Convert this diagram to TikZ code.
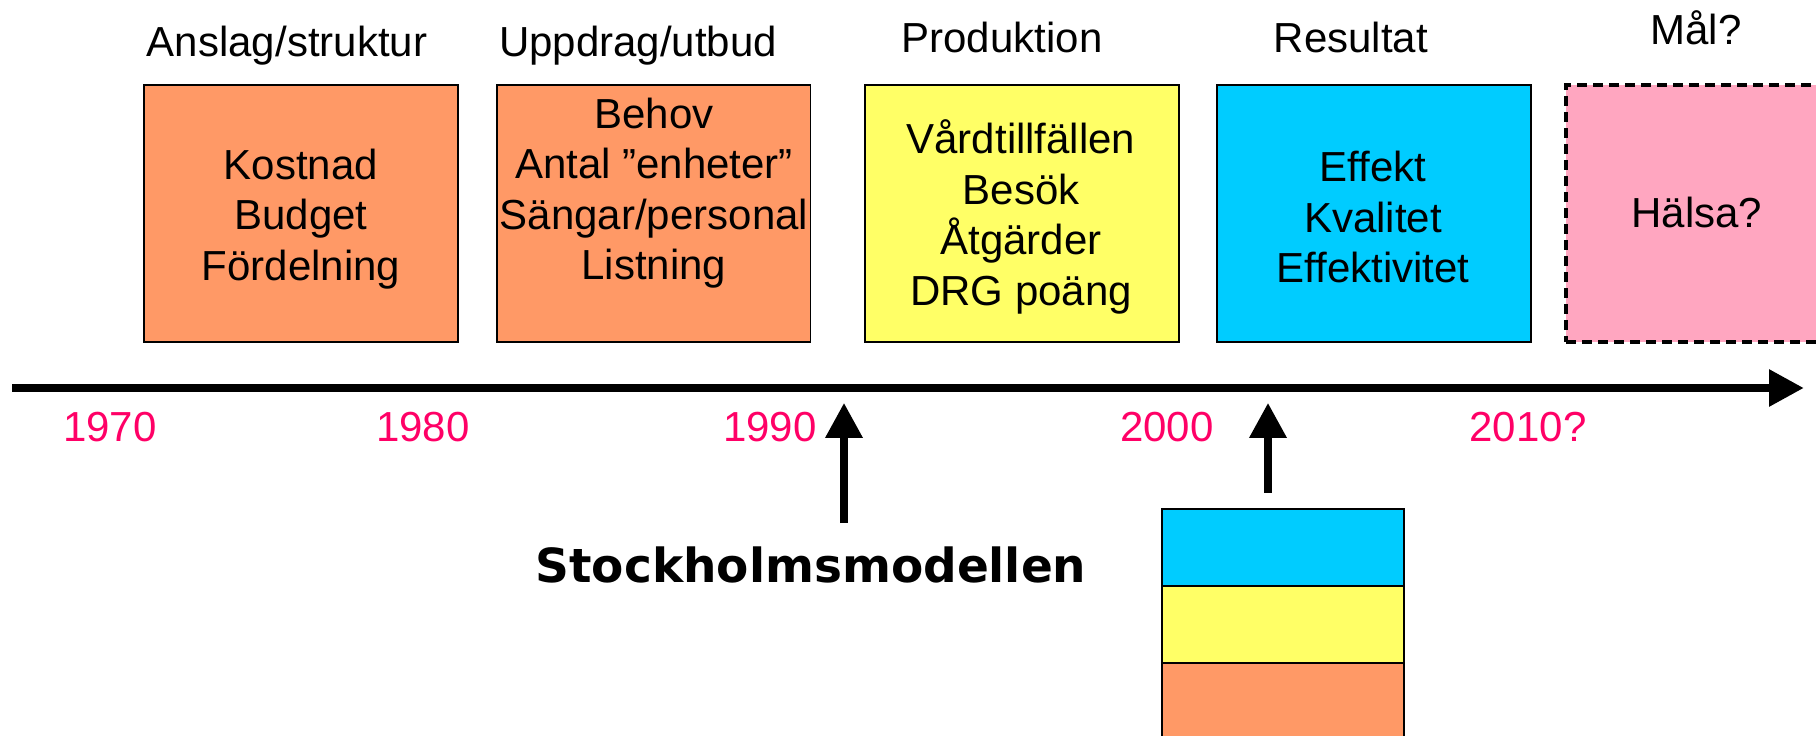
\documentclass[tikz,border=0pt]{standalone}
\usepackage{fontspec}
\setmainfont{Liberation Sans}
\newfontfamily\modelfont{DejaVu Sans}
\usetikzlibrary{arrows.meta}

\definecolor{orangebox}{HTML}{FF9966}
\definecolor{yellowbox}{HTML}{FFFF66}
\definecolor{bluebox}{HTML}{00CCFF}
\definecolor{pinkbox}{HTML}{FFA6C0}
\definecolor{yearcol}{HTML}{FF0066}

\tikzset{
    box/.style={draw=black, line width=1.1pt, minimum width=6.28cm, minimum height=5.14cm, inner sep=0pt},
    boxtext/.style={align=center, inner sep=0pt, font=\fontsize{23.9}{28.7}\selectfont},
    heading/.style={anchor=base, inner sep=0pt, font=\fontsize{23.9}{28.7}\selectfont},
    year/.style={anchor=base, inner sep=0pt, text=yearcol, font=\fontsize{23.9}{28.7}\selectfont},
    layer/.style={draw=black, line width=1.1pt, minimum width=4.84cm, minimum height=1.54cm, inner sep=0pt},
    uparrow/.style={line width=4pt, -{Triangle[length=0.7cm, width=0.72cm]}},
}

\begin{document}
\begin{tikzpicture}[x=0.02cm, y=-0.02cm]
    \useasboundingbox (0,0) rectangle (1816,736);
    \clip (0,0) rectangle (1816,736);

    % headings
    \node[heading] (hanslag) at (287,57) {Anslag/struktur};
    \node[heading] (huppdrag) at (638,57) {Uppdrag/utbud};
    \node[heading] (hprod) at (1002,53) {Produktion};
    \node[heading] (hresultat) at (1351,53) {Resultat};
    \node[heading] (hmal) at (1696,45) {Mål?};

    % boxes
    \node[box, fill=orangebox] (anslag) at (301,213.5) {};
    \node[box, fill=orangebox] (uppdrag) at (653.5,213.5) {};
    \node[box, fill=yellowbox] (prod) at (1022,213.5) {};
    \node[box, fill=bluebox] (resultat) at (1374,213.5) {};
    \node[box, fill=pinkbox, line width=2pt, dash pattern=on 0.2cm off 0.12cm] (mal) at (1723,213.5) {};

    \node[boxtext] (kostnad) at (301,219) {Kostnad\\Budget\\Fördelning};
    \node[boxtext] (behov) at (654,193) {Behov\\Antal ”enheter”\\Sängar/personal\\Listning};
    \node[boxtext] (vard) at (1021,217) {Vårdtillfällen\\Besök\\Åtgärder\\DRG poäng};
    \node[boxtext] (effekt) at (1373,217) {Effekt\\Kvalitet\\Effektivitet};
    \node[heading] (halsa) at (1697,228) {Hälsa?};

    % time axis
    \coordinate (axstart) at (12,388);
    \coordinate (axend) at (1804,388);
    \draw[line width=5.1pt, -{Triangle[length=0.7cm, width=0.7cm]}] (axstart) -- (axend);
    \node[year] (y1970) at (110,441) {1970};
    \node[year] (y1980) at (423,441) {1980};
    \node[year] (y1990) at (770,441) {1990};
    \node[year] (y2000) at (1167,441) {2000};
    \node[year] (y2010) at (1528,441) {2010?};

    % model arrows
    \node[anchor=base, inner sep=0pt, font=\modelfont\bfseries\fontsize{26.75}{32}\selectfont] (stockholm) at (811,582) {Stockholmsmodellen};
    \coordinate (s1) at (844,523);
    \coordinate (t1) at (844,403);
    \draw[uparrow] (s1) -- (t1);

    \node[layer, fill=bluebox] (lagerR) at (1283,547.5) {};
    \node[layer, fill=yellowbox] (lagerP) at (1283,624.5) {};
    \node[layer, fill=orangebox] (lagerA) at (1283,701.5) {};
    \coordinate (s2) at (1268,493);
    \coordinate (t2) at (1268,403);
    \draw[uparrow] (s2) -- (t2);
\end{tikzpicture}
\end{document}
